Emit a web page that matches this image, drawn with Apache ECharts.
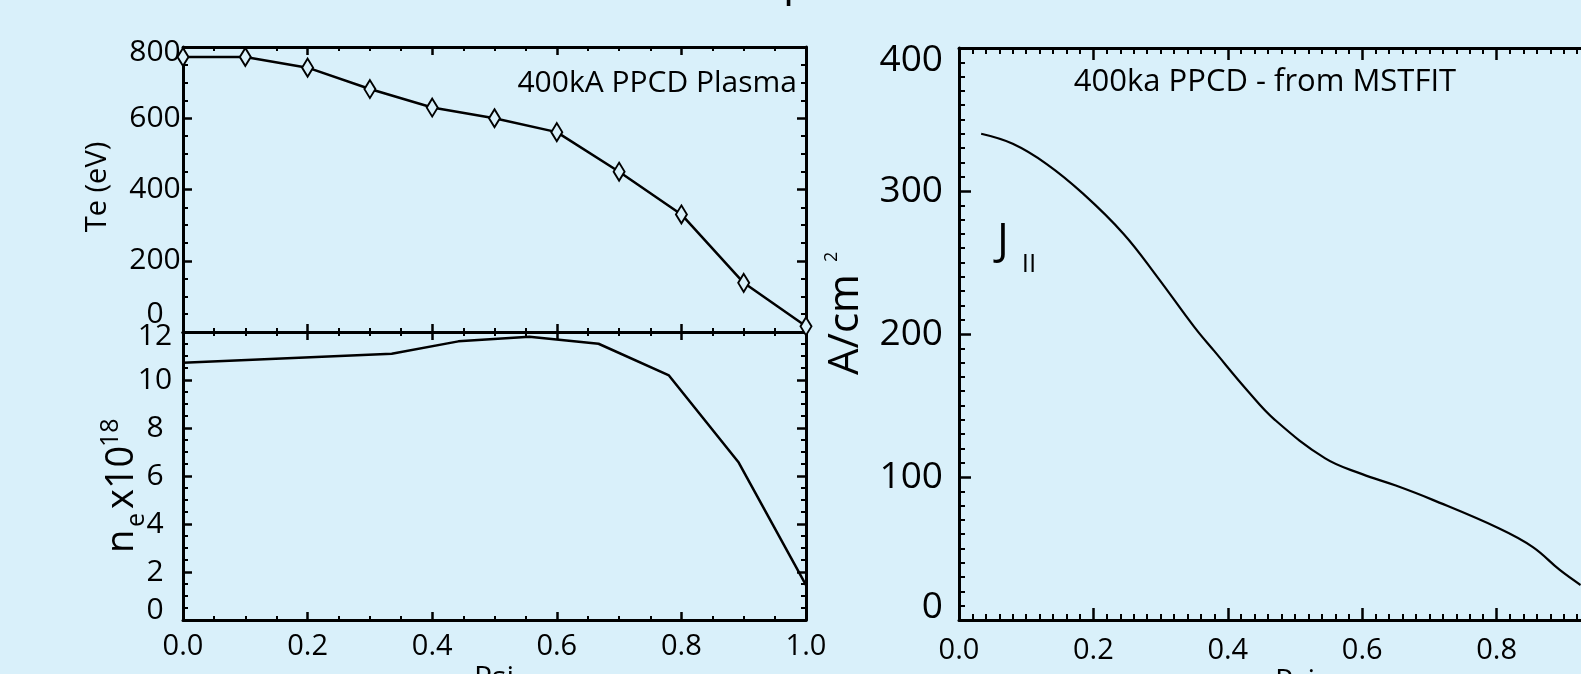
<!DOCTYPE html>
<html>
<head>
<meta charset="utf-8">
<script src="https://cdn.jsdelivr.net/npm/echarts@6/dist/echarts.min.js"></script>
<style>
html,body{margin:0;padding:0;background:#d9f0fa;}
#chart{width:1581px;height:674px;}
</style>
</head>
<body>
<div id="chart"></div>
<script>
// ---- data ----
const teX = [0, 0.1, 0.2, 0.3, 0.4, 0.5, 0.6, 0.7, 0.8, 0.9, 1.0];
const teVal = [772, 772, 742, 682, 630, 600, 561, 450, 330, 138, 16];
const neX = [0, 0.335, 0.442, 0.556, 0.667, 0.78, 0.892, 1.0];
const neVal = [10.72, 11.09, 11.61, 11.80, 11.51, 10.19, 6.56, 1.45];
const jX = [0.033, 0.08, 0.13, 0.185, 0.245, 0.295, 0.35, 0.38, 0.43, 0.47, 0.545, 0.6, 0.65, 0.705, 0.804, 0.854, 0.894, 0.925];
const jVal = [340, 333, 319, 298, 270, 240, 205, 188, 160, 140, 113, 102, 94, 84, 64, 51, 35, 24.5];
const psiTickLabels = ['0.0', '0.2', '0.4', '0.6', '0.8', '1.0'];
const teTickLabels = ['0', '200', '400', '600', '800'];
const neTickLabels = ['0', '2', '4', '6', '8', '10', '12'];
const jTickLabels = ['0', '100', '200', '300', '400'];

const FONT = '"Open Sans", "Noto Sans", sans-serif';
const BG = '#d9f0fa';
const pair = (xs, ys) => xs.map((x, i) => [x, ys[i]]);

function xAx(grid, pos, showLabel, minorSplit, majorLen, minorLen, labelMargin) {
  return {
    type: 'value', gridIndex: grid, position: pos, min: 0, max: 1, interval: 0.2,
    axisLine: { show: true, onZero: false, lineStyle: { color: '#000', width: 3 } },
    axisTick: { show: true, inside: true, length: majorLen, lineStyle: { color: '#000', width: 2.5 } },
    minorTick: { show: true, splitNumber: minorSplit, length: minorLen, lineStyle: { color: '#000', width: 2 } },
    splitLine: { show: false },
    axisLabel: {
      show: showLabel, margin: labelMargin, color: '#000', fontSize: 29, fontFamily: FONT,
      formatter: v => psiTickLabels[Math.round(v / 0.2)]
    }
  };
}
function yAx(grid, pos, showLabel, min, max, interval, minorSplit, labels, labelOpts, majorLen, minorLen) {
  return {
    type: 'value', gridIndex: grid, position: pos, min: min, max: max, interval: interval,
    axisLine: { show: true, onZero: false, lineStyle: { color: '#000', width: 3 } },
    axisTick: { show: true, inside: true, length: majorLen, lineStyle: { color: '#000', width: 2.5 } },
    minorTick: { show: true, splitNumber: minorSplit, length: minorLen, lineStyle: { color: '#000', width: 2 } },
    splitLine: { show: false },
    axisLabel: Object.assign({
      show: showLabel, color: '#000', fontFamily: FONT,
      formatter: v => {
        const t = labels[Math.round((v - min) / interval)];
        if (v === min) return '{lo|' + t + '}';
        if (v === max) return '{hi|' + t + '}';
        return t;
      }
    }, labelOpts)
  };
}

const chart = echarts.init(document.getElementById('chart'), null, { renderer: 'canvas' });
const option = {
  backgroundColor: BG,
  animation: false,
  grid: [
    { left: 183, top: 47, width: 623, height: 285, outerBoundsMode: 'none', containLabel: false },
    { left: 183, top: 332, width: 623, height: 288, outerBoundsMode: 'none', containLabel: false },
    { left: 959, top: 48, width: 672, height: 572, outerBoundsMode: 'none', containLabel: false }
  ],
  xAxis: [
    xAx(0, 'bottom', false, 4, 8, 4, 10),
    xAx(0, 'top', false, 4, 8, 4, 10),
    xAx(1, 'bottom', true, 4, 8, 4, 12),
    xAx(1, 'top', false, 4, 8, 4, 10),
    xAx(2, 'bottom', true, 10, 12, 6, 16),
    xAx(2, 'top', false, 10, 12, 6, 10)
  ],
  yAxis: [
    yAx(0, 'left', true, 0, 800, 200, 4, teTickLabels,
      { fontSize: 30, align: 'center', margin: 28,
        rich: { lo: { fontSize: 30, fontFamily: FONT, padding: [0, 0, 36, 0] }, hi: { fontSize: 30, fontFamily: FONT, padding: [10, 0, 0, 0] } } }, 9, 5),
    yAx(0, 'right', false, 0, 800, 200, 4, teTickLabels, {}, 9, 5),
    yAx(1, 'left', true, 0, 12, 2, 4, neTickLabels,
      { fontSize: 30, align: 'center', margin: 28,
        rich: { lo: { fontSize: 30, fontFamily: FONT, padding: [0, 0, 20, 0] }, hi: { fontSize: 30, fontFamily: FONT, padding: [8, 0, 0, 0] } } }, 9, 5),
    yAx(1, 'right', false, 0, 12, 2, 4, neTickLabels, {}, 9, 5),
    yAx(2, 'left', true, 0, 400, 100, 10, jTickLabels,
      { fontSize: 37, align: 'right', margin: 16,
        rich: { lo: { fontSize: 37, fontFamily: FONT, padding: [0, 0, 26, 0] }, hi: { fontSize: 37, fontFamily: FONT, padding: [24, 0, 0, 0] } } }, 12, 6),
    yAx(2, 'right', false, 0, 400, 100, 10, jTickLabels, {}, 12, 6)
  ],
  series: [
    {
      type: 'line', xAxisIndex: 0, yAxisIndex: 0, data: pair(teX, teVal),
      symbol: 'diamond', symbolSize: [11, 18], showAllSymbol: true,
      itemStyle: { color: BG, borderColor: '#000', borderWidth: 2 },
      lineStyle: { color: '#000', width: 2.5 }, z: 3
    },
    {
      type: 'line', xAxisIndex: 2, yAxisIndex: 2, data: pair(neX, neVal),
      symbol: 'none', lineStyle: { color: '#000', width: 2.5 }
    },
    {
      type: 'line', xAxisIndex: 4, yAxisIndex: 4, data: pair(jX, jVal),
      symbol: 'none', smooth: 0.4, lineStyle: { color: '#000', width: 2.2 }
    }
  ],
  graphic: [
    { type: 'text', x: 783, y: -40, style: { text: 'p', font: '44px ' + FONT, fill: '#000' } },
    { type: 'text', x: 98, y: 187, rotation: Math.PI / 2,
      style: { text: 'Te (eV)', font: '29px ' + FONT, fill: '#000', textAlign: 'center', textVerticalAlign: 'middle' } },
    { type: 'text', x: 122, y: 553, rotation: Math.PI / 2,
      style: { text: 'n', font: '38px ' + FONT, fill: '#000', textAlign: 'left', textVerticalAlign: 'middle' } },
    { type: 'text', x: 137, y: 527, rotation: Math.PI / 2,
      style: { text: 'e', font: '25px ' + FONT, fill: '#000', textAlign: 'left', textVerticalAlign: 'middle' } },
    { type: 'text', x: 122, y: 509, rotation: Math.PI / 2,
      style: { text: 'x10', font: '38px ' + FONT, fill: '#000', textAlign: 'left', textVerticalAlign: 'middle' } },
    { type: 'text', x: 111, y: 447, rotation: Math.PI / 2,
      style: { text: '18', font: '25px ' + FONT, fill: '#000', textAlign: 'left', textVerticalAlign: 'middle' } },
    { type: 'text', x: 797, y: 83,
      style: { text: '400kA PPCD Plasma', font: '30px ' + FONT, fill: '#000', textAlign: 'right', textVerticalAlign: 'middle' } },
    { type: 'text', x: 1265, y: 82,
      style: { text: '400ka PPCD - from MSTFIT', font: '31px ' + FONT, fill: '#000', textAlign: 'center', textVerticalAlign: 'middle' } },
    { type: 'text', x: 1003, y: 241,
      style: { text: 'J', font: '44px ' + FONT, fill: '#000', textAlign: 'center', textVerticalAlign: 'middle' } },
    { type: 'text', x: 1029, y: 265,
      style: { text: 'II', font: '26px ' + FONT, fill: '#000', textAlign: 'center', textVerticalAlign: 'middle' } },
    { type: 'text', x: 846, y: 375, rotation: Math.PI / 2,
      style: { text: 'A/cm', font: '42px ' + FONT, fill: '#000', textAlign: 'left', textVerticalAlign: 'middle' } },
    { type: 'text', x: 832, y: 262, rotation: Math.PI / 2,
      style: { text: '2', font: '18px ' + FONT, fill: '#000', textAlign: 'left', textVerticalAlign: 'middle' } },
    { type: 'text', x: 494, y: 663,
      style: { text: 'Psi', font: '30px ' + FONT, fill: '#000', textAlign: 'center', textVerticalAlign: 'top' } },
    { type: 'text', x: 1295, y: 666,
      style: { text: 'Psi', font: '30px ' + FONT, fill: '#000', textAlign: 'center', textVerticalAlign: 'top' } }
  ]
};
chart.setOption(option);
</script>
</body>
</html>
